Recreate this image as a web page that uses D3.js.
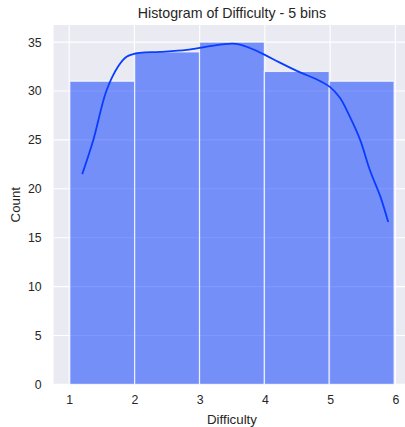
<!DOCTYPE html>
<html>
<head>
<meta charset="utf-8">
<script src="https://cdn.jsdelivr.net/npm/d3@7"></script>
<style>
  html, body { margin: 0; padding: 0; background: #ffffff; }
  svg { display: block; font-family: "Liberation Sans", Arial, sans-serif; }
</style>
</head>
<body>
<svg id="chart" width="405" height="427"></svg>
<script>
// ---- data ----
const binEdges = [1.01, 2.004, 2.998, 3.992, 4.986, 5.98];
const binCounts = [31, 34, 35, 32, 31];
const kdeX = [1.2, 1.37, 1.57, 1.75, 1.88, 2.08, 2.39, 2.8, 3.16, 3.5, 3.62, 3.77, 4.0, 4.23, 4.54, 4.79, 5.0, 5.15, 5.3, 5.46, 5.61, 5.77, 5.89];
const kdeY = [21.5, 25.0, 30.0, 32.5, 33.5, 33.9, 34.0, 34.2, 34.6, 34.85, 34.75, 34.4, 33.7, 32.9, 31.9, 31.2, 30.4, 29.3, 27.4, 25.0, 21.9, 19.2, 16.6];
const xTicks = [1, 2, 3, 4, 5, 6];
const yTicks = [0, 5, 10, 15, 20, 25, 30, 35];
const titleText = "Histogram of Difficulty - 5 bins";
const xLabel = "Difficulty";
const yLabel = "Count";

// ---- layout ----
const mLeft = 53.6, mRight = 410.3, mTop = 25, mBottom = 384.4;
const svg = d3.select("#chart");

const x = d3.scaleLinear().domain([0.7615, 6.2285]).range([mLeft, mRight]);
const y = d3.scaleLinear().domain([0, 36.75]).range([mBottom, mTop]);

// background
svg.append("rect").attr("x", mLeft).attr("y", mTop)
  .attr("width", mRight - mLeft).attr("height", mBottom - mTop)
  .attr("fill", "#eaeaf2");

// gridlines
const grid = svg.append("g");
grid.selectAll("line.v").data(xTicks).enter().append("line")
  .attr("x1", d => x(d)).attr("x2", d => x(d))
  .attr("y1", mTop).attr("y2", mBottom)
  .attr("stroke", "#ffffff").attr("stroke-width", 1.1);
grid.selectAll("line.h").data(yTicks).enter().append("line")
  .attr("x1", mLeft).attr("x2", mRight)
  .attr("y1", d => y(d)).attr("y2", d => y(d))
  .attr("stroke", "#ffffff").attr("stroke-width", 1.1);

// bars
const bins = binCounts.map((c, i) => ({x0: binEdges[i], x1: binEdges[i + 1], c}));
svg.append("g").selectAll("rect").data(bins).enter().append("rect")
  .attr("x", d => x(d.x0)).attr("width", d => x(d.x1) - x(d.x0))
  .attr("y", d => y(d.c)).attr("height", d => y(0) - y(d.c))
  .attr("fill", "#0033ff").attr("fill-opacity", 0.5)
  .attr("stroke", "#ffffff").attr("stroke-opacity", 0.75).attr("stroke-width", 1.2);

// kde line
const pts = kdeX.map((v, i) => [v, kdeY[i]]);
svg.append("path").datum(pts)
  .attr("d", d3.line().x(d => x(d[0])).y(d => y(d[1])).curve(d3.curveCatmullRom.alpha(0.5)))
  .attr("fill", "none").attr("stroke", "#0a3cff").attr("stroke-width", 1.8);

// axes
const xAxis = svg.append("g").attr("transform", `translate(0,${mBottom})`)
  .call(d3.axisBottom(x).tickValues(xTicks).tickSize(0).tickPadding(11).tickFormat(d3.format("d")));
const yAxis = svg.append("g").attr("transform", `translate(${mLeft},0)`)
  .call(d3.axisLeft(y).tickValues(yTicks).tickSize(0).tickPadding(12).tickFormat(d3.format("d")));
[xAxis, yAxis].forEach(a => {
  a.select(".domain").remove();
  a.selectAll("text").attr("font-size", 12.3).attr("fill", "#262626")
    .attr("font-family", "'Liberation Sans', Arial, sans-serif");
});

// title & labels
svg.append("text").attr("x", (mLeft + mRight) / 2).attr("y", 18)
  .attr("text-anchor", "middle").attr("font-size", 14.2).attr("fill", "#262626").text(titleText);
svg.append("text").attr("x", (mLeft + mRight) / 2).attr("y", 424)
  .attr("text-anchor", "middle").attr("font-size", 13.3).attr("fill", "#262626").text(xLabel);
svg.append("text").attr("transform", `translate(20,${(mTop + mBottom) / 2}) rotate(-90)`)
  .attr("text-anchor", "middle").attr("font-size", 13.3).attr("fill", "#262626").text(yLabel);
</script>
</body>
</html>
